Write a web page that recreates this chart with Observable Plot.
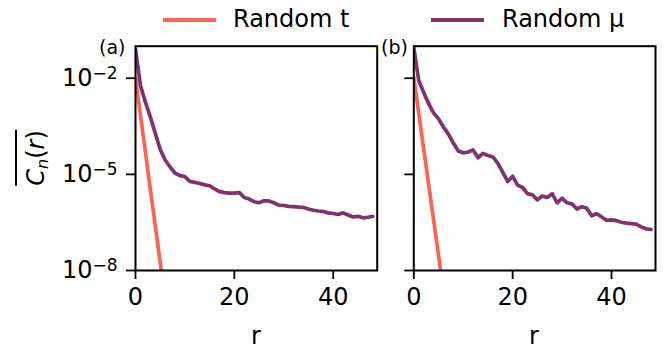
<!DOCTYPE html>
<html>
<head>
<meta charset="utf-8">
<script src="https://cdn.jsdelivr.net/npm/d3@7"></script>
<script src="https://cdn.jsdelivr.net/npm/@observablehq/plot@0.6"></script>
<style>
  html, body { margin: 0; padding: 0; background: #fff; }
  #root { position: relative; width: 669px; height: 350px; font-family: "DejaVu Sans", sans-serif; color: #000; overflow: hidden; }
  .abs { position: absolute; white-space: nowrap; }
  .lab { font-size: 24px; line-height: 1; }
</style>
</head>
<body>
<div id="root"></div>
<script>
// ---- data ----
const rValues = [0,1,2,3,4,5,6,7,8,9,10,11,12,13,14,15,16,17,18,19,20,21,22,23,24,25,26,27,28,29,30,31,32,33,34,35,36,37,38,39,40,41,42,43,44,45,46,47,48];
// panel (a): Random mu
const muA = [8.1e-2,5.9e-3,1.8e-3,6.2e-4,1.9e-4,6.0e-5,2.8e-5,1.7e-5,1.1e-5,9.1e-6,8.5e-6,6.0e-6,5.6e-6,5.2e-6,4.7e-6,4.4e-6,3.5e-6,2.9e-6,2.7e-6,2.6e-6,2.6e-6,2.7e-6,1.9e-6,1.7e-6,1.4e-6,1.3e-6,1.5e-6,1.48e-6,1.3e-6,1.1e-6,1.07e-6,1.0e-6,9.8e-7,9.5e-7,9.3e-7,8.3e-7,7.6e-7,7.2e-7,6.9e-7,6.3e-7,6.0e-7,5.6e-7,6.3e-7,5.4e-7,4.7e-7,4.9e-7,4.4e-7,4.6e-7,4.9e-7];
// panel (b): Random mu
const muB = [8.9e-2,8.5e-3,3.6e-3,1.6e-3,8.3e-4,5.4e-4,3.0e-4,1.8e-4,9.5e-5,5.4e-5,4.7e-5,5.0e-5,5.8e-5,3.3e-5,4.5e-5,3.9e-5,3.5e-5,2.2e-5,1.15e-5,6.0e-6,8.7e-6,4.6e-6,3.9e-6,2.5e-6,2.3e-6,1.6e-6,2.1e-6,1.9e-6,2.5e-6,1.3e-6,1.8e-6,1.3e-6,1.2e-6,8.3e-7,9.8e-7,8.7e-7,5.1e-7,5.9e-7,4.7e-7,3.7e-7,3.8e-7,3.6e-7,3.2e-7,3.0e-7,2.9e-7,2.8e-7,2.3e-7,2.0e-7,1.9e-7];
// Random t (both panels)
const rT = [0,1,2,3,4,5,6];
const tA = [1.0e-2,7.1e-4,5.0e-5,3.5e-6,2.5e-7,1.8e-8,1.3e-9];
const tB = [1.05e-2,8.1e-4,6.3e-5,4.9e-6,3.8e-7,3.0e-8,2.3e-9];
// ticks / labels
const xTicks = [0, 20, 40];
const yTicks = [1e-8, 1e-5, 1e-2];
const seriesNames = ["Random t", "Random μ"];
const panelNames = ["(a)", "(b)"];
const colors = ["#fc6452", "#7f326d"];

const root = document.getElementById("root");

function panel(mu, t, width, ml, mr, showLabels) {
  const dMu = rValues.map((r, i) => ({r, c: mu[i]}));
  const dT = rT.map((r, i) => ({r, c: t[i]}));
  const svg = Plot.plot({
    width, height: 350,
    marginLeft: ml, marginRight: mr, marginTop: 45.7, marginBottom: 80,
    style: {fontFamily: "DejaVu Sans", background: "transparent", color: "#000", overflow: "visible"},
    x: {domain: [0, 48.9]},
    y: {type: "log", domain: [1e-8, 1e-1]},
    marks: [
      Plot.axisX({ticks: xTicks, tickSize: 9, tickPadding: 8, fontSize: 24, strokeWidth: 1.8, label: null, tickFormat: d => String(d)}),
      Plot.axisY({ticks: yTicks, tickSize: 9, tickPadding: 9, fontSize: 24, strokeWidth: 1.8, label: null,
        tickFormat: showLabels ? (d => "10|" + Math.round(Math.log10(d))) : (() => "")}),
      Plot.line(dT, {x: "r", y: "c", stroke: colors[0], strokeWidth: 3.7, clip: true}),
      Plot.line(dMu, {x: "r", y: "c", stroke: colors[1], strokeWidth: 3.7, clip: true}),
      Plot.frame({stroke: "#000", strokeWidth: 2})
    ]
  });
  d3.select(svg).selectAll("text").each(function() {
    const s = this.textContent;
    if (s.includes("|")) {
      const [b, e] = s.split("|");
      const el = d3.select(this);
      el.text(b);
      el.append("tspan").attr("dy", "-0.42em").attr("font-size", "17px").text(e.replace("-", "−"));
    }
  });
  return svg;
}

const A = panel(muA, tA, 390, 135, 13.3, true);
A.style.position = "absolute"; A.style.left = "0px"; A.style.top = "0px";
root.appendChild(A);
const B = panel(muB, tB, 289, 33.3, 14, false);
B.style.position = "absolute"; B.style.left = "380px"; B.style.top = "0px";
root.appendChild(B);

function addText(html, x, y, cls, extra) {
  const d = document.createElement("div");
  d.className = "abs " + (cls || "");
  d.innerHTML = html;
  d.style.left = x + "px"; d.style.top = y + "px";
  if (extra) Object.assign(d.style, extra);
  root.appendChild(d);
  return d;
}

// panel labels
addText(panelNames[0], 99, 36, "", {fontSize: "19px"});
addText(panelNames[1], 381, 36, "", {fontSize: "19px"});

// x labels
addText("r", 256, 336, "lab", {transform: "translate(-50%,-50%)"});
addText("r", 534, 336, "lab", {transform: "translate(-50%,-50%)"});

// y label
addText('<span style="display:inline-block;border-top:2px solid #000;padding-top:7px;line-height:1"><i>C</i><sub style="font-size:16px;vertical-align:-4px"><i>n</i></sub>(<i>r</i>)</span>',
  33, 158, "lab", {transform: "translate(-50%,-50%) rotate(-90deg)"});

// legend
function legendItem(i, x0, x1, tx) {
  const sw = document.createElement("div");
  sw.className = "abs";
  Object.assign(sw.style, {left: x0 + "px", top: "18px", width: (x1 - x0) + "px", height: "3.6px", background: colors[i]});
  root.appendChild(sw);
  addText(seriesNames[i], tx, 7, "lab");
}
legendItem(0, 163, 216, 233);
legendItem(1, 431, 484, 502);
</script>
</body>
</html>
